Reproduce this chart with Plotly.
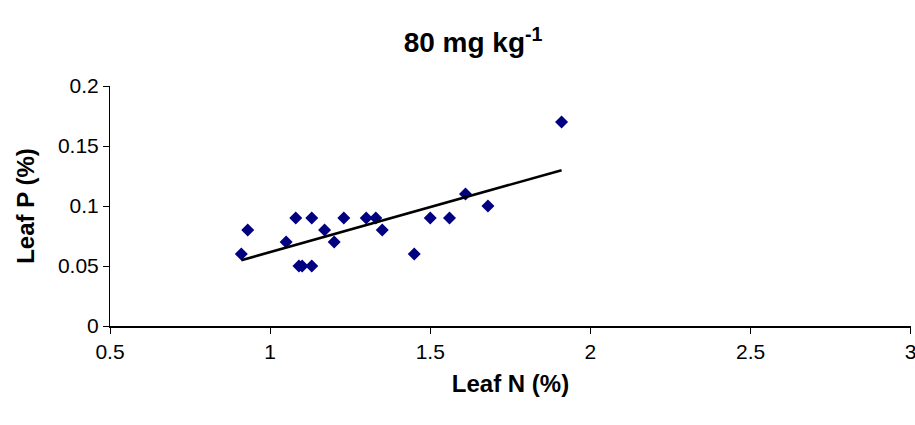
import numpy as np
import plotly.graph_objects as go

leaf_n = [0.91, 0.93, 1.05, 1.08, 1.09, 1.10, 1.13, 1.13, 1.17, 1.20,
          1.23, 1.30, 1.33, 1.35, 1.45, 1.50, 1.56, 1.61, 1.68, 1.91]
leaf_p = [0.06, 0.08, 0.07, 0.09, 0.05, 0.05, 0.09, 0.05, 0.08, 0.07,
          0.09, 0.09, 0.09, 0.08, 0.06, 0.09, 0.09, 0.11, 0.10, 0.17]
x_ticks = [0.5, 1, 1.5, 2, 2.5, 3]
y_ticks = [0, 0.05, 0.1, 0.15, 0.2]

slope, intercept = np.polyfit(leaf_n, leaf_p, 1)
trend_x = [min(leaf_n), max(leaf_n)]
trend_y = [slope * v + intercept for v in trend_x]

fig = go.Figure()
fig.add_trace(go.Scatter(x=leaf_n, y=leaf_p, mode="markers",
                         marker=dict(symbol="diamond", size=10, color="#000080"),
                         showlegend=False))
fig.add_trace(go.Scatter(x=trend_x, y=trend_y, mode="lines",
                         line=dict(color="black", width=2.6),
                         showlegend=False))

font = "Arial, Liberation Sans, sans-serif"
fig.update_layout(
    width=915, height=425,
    margin=dict(l=110, r=4, t=86, b=99, autoexpand=False),
    paper_bgcolor="white", plot_bgcolor="white",
    font=dict(family=font, color="black"),
    title=dict(text="<b>80 mg kg<sup>-1</sup></b>", x=0.517, xanchor="center",
               y=0.9, yanchor="middle", font=dict(size=28, family=font)),
    xaxis=dict(range=[0.5, 3.001], tickvals=x_ticks, ticktext=[str(v) for v in x_ticks],
               showgrid=False, zeroline=False, showline=True, linecolor="black",
               linewidth=2, ticks="outside", ticklen=6, tickcolor="black",
               tickfont=dict(size=21), ticklabeloverflow="allow", automargin=False,
               title=dict(text="<b>Leaf N (%)</b>", font=dict(size=24), standoff=13)),
    yaxis=dict(range=[0, 0.2], tickvals=y_ticks, ticktext=[str(v) for v in y_ticks],
               showgrid=False, zeroline=False, showline=True, linecolor="black",
               linewidth=1, ticks="outside", ticklen=6, tickcolor="black",
               tickfont=dict(size=21), ticklabeloverflow="allow", automargin=False,
               title=dict(text="<b>Leaf P (%)</b>", font=dict(size=24), standoff=16)),
)
fig.write_html("out.html", config={"displayModeBar": False},
               post_script="document.body.style.margin='0';document.body.style.overflow='hidden';")
